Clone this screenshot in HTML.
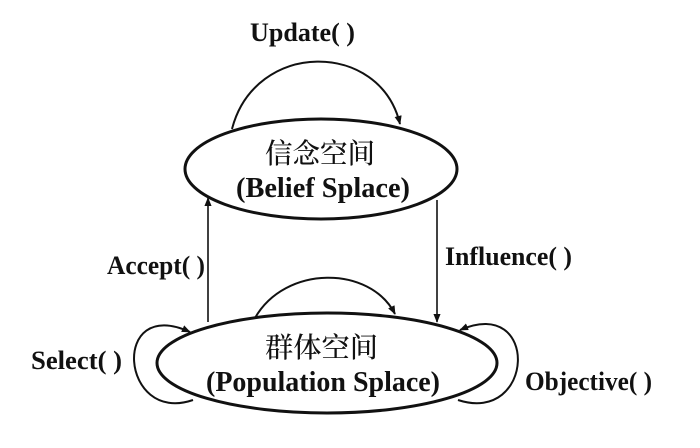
<!DOCTYPE html>
<html><head><meta charset="utf-8"><style>
html,body{margin:0;padding:0;background:#fff;}
svg{display:block}
text{font-family:"Liberation Serif","Noto Serif CJK SC",serif;fill:#111;}
</style></head><body>
<svg width="700" height="448" viewBox="0 0 700 448" xmlns="http://www.w3.org/2000/svg">
<defs><marker id="a" viewBox="0 0 10 10" refX="9" refY="5" markerWidth="9" markerHeight="9" orient="auto-start-reverse" markerUnits="userSpaceOnUse"><path d="M0,1 L10,5 L0,9 Z" fill="#111"/></marker></defs>
<g fill="none" stroke="#111" stroke-width="2">
<path d="M232,129 C255,40 380,40 400,124" marker-end="url(#a)"/>
<path d="M255,318 C285,265 370,265 395,314" marker-end="url(#a)"/>
<path d="M208,322 L208,198" stroke-width="1.6" marker-end="url(#a)"/>
<path d="M437,200 L437,322" stroke-width="1.6" marker-end="url(#a)"/>
<path d="M193,400 C120,425 110,295 190,332" marker-end="url(#a)"/>
<path d="M458,400 C535,425 540,295 460,330" marker-end="url(#a)"/>
<ellipse cx="321" cy="169" rx="136" ry="50" stroke-width="3"/>
<ellipse cx="327" cy="363" rx="170" ry="50" stroke-width="3"/>
</g>
<g font-weight="bold">
<text x="250" y="41" font-size="26" textLength="105" lengthAdjust="spacingAndGlyphs">Update( )</text>
<text x="265" y="163" font-size="28" font-weight="500" textLength="110" lengthAdjust="spacingAndGlyphs" font-family="Noto Sans CJK SC,sans-serif">信念空间</text>
<text x="236" y="197" font-size="28" textLength="174" lengthAdjust="spacingAndGlyphs">(Belief Splace)</text>
<text x="107" y="274" font-size="26" textLength="98" lengthAdjust="spacingAndGlyphs">Accept( )</text>
<text x="445" y="265" font-size="26" textLength="127" lengthAdjust="spacingAndGlyphs">Influence( )</text>
<text x="265" y="357" font-size="28" font-weight="500" textLength="113" lengthAdjust="spacingAndGlyphs" font-family="Noto Sans CJK SC,sans-serif">群体空间</text>
<text x="206" y="391" font-size="28" textLength="234" lengthAdjust="spacingAndGlyphs">(Population Splace)</text>
<text x="31" y="369" font-size="26" textLength="91" lengthAdjust="spacingAndGlyphs">Select( )</text>
<text x="525" y="390" font-size="26" textLength="127" lengthAdjust="spacingAndGlyphs">Objective( )</text>
</g>
</svg>
</body></html>
